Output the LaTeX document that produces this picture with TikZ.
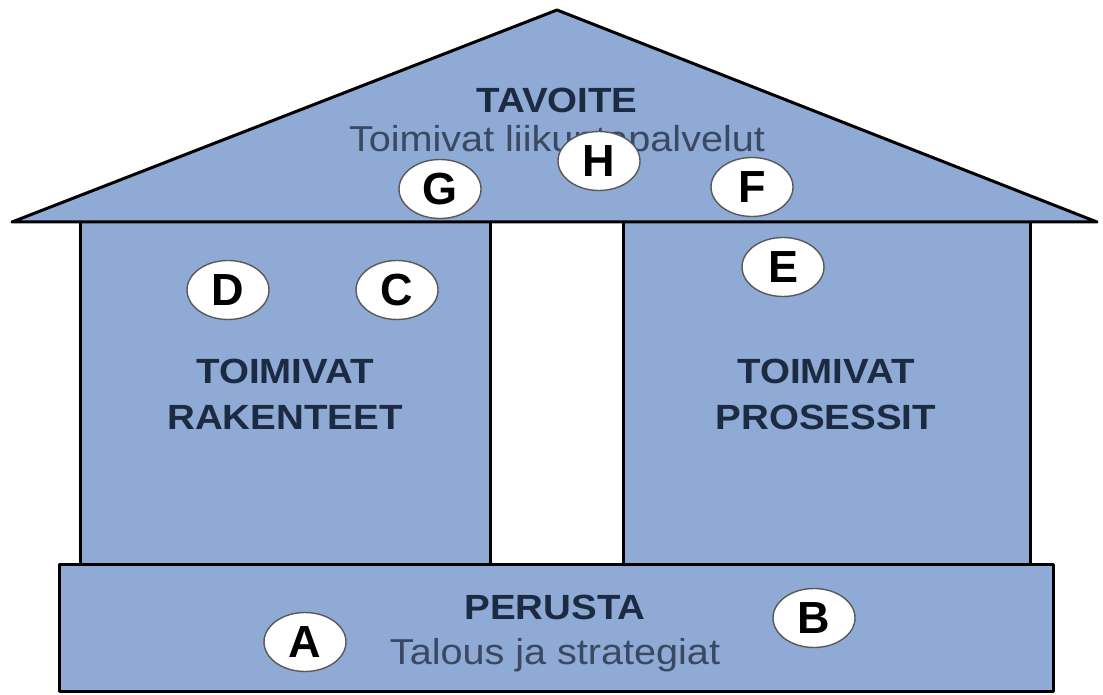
\documentclass[tikz,border=0pt]{standalone}
\usepackage{fontspec}
\setmainfont[FakeStretch=1.1]{Liberation Sans}
\newfontfamily\letterfont{Liberation Sans}
\usetikzlibrary{shapes.geometric}
\definecolor{housefill}{HTML}{8EAAD5}
\definecolor{titleink}{HTML}{1C2A42}
\definecolor{subink}{HTML}{3A4862}
\tikzset{
  part/.style={draw=black, line width=3pt, fill=housefill, line join=round},
  title/.style={font=\fontsize{35}{40}\selectfont\bfseries, text=titleink, align=center},
  subtitle/.style={font=\fontsize{36}{40}\selectfont, text=subink},
  marker/.style={ellipse, draw=black!65, line width=1.4pt, fill=white,
    minimum width=82pt, minimum height=59pt, inner sep=0pt,
    font=\letterfont\fontsize{45}{48}\selectfont\bfseries}
}
\begin{document}
\begin{tikzpicture}[x=1pt, y=-1pt]
\useasboundingbox (0,0) rectangle (1103,695);
% pillars
\draw[part] (80,222) rectangle (490,564);
\draw[part] (623,222) rectangle (1030,564);
% roof
\draw[part] (557,10) -- (1097,222) -- (12,222) -- cycle;
% base
\draw[part] (59,564) rectangle (1053,691);
% texts
\node[title] (goal) at (557,100) {TAVOITE};
\node[subtitle] (goalsub) at (557,142) {Toimivat liikuntapalvelut};
\node[title] (structures) at (285,394) {TOIMIVAT\\[6pt]RAKENTEET};
\node[title] (processes) at (826,394) {TOIMIVAT\\[6pt]PROSESSIT};
\node[title] (base) at (555,607) {PERUSTA};
\node[subtitle] (basesub) at (555,655) {Talous ja strategiat};
% lettered markers
\node[marker] (G) at (440,189) {G};
\node[marker] (H) at (599,161) {H};
\node[marker] (F) at (752,187) {F};
\node[marker] (E) at (783,267) {E};
\node[marker] (D) at (228,290) {D};
\node[marker] (C) at (397,290) {C};
\node[marker] (A) at (305,642) {A};
\node[marker] (B) at (814,618) {B};
\end{tikzpicture}
\end{document}
